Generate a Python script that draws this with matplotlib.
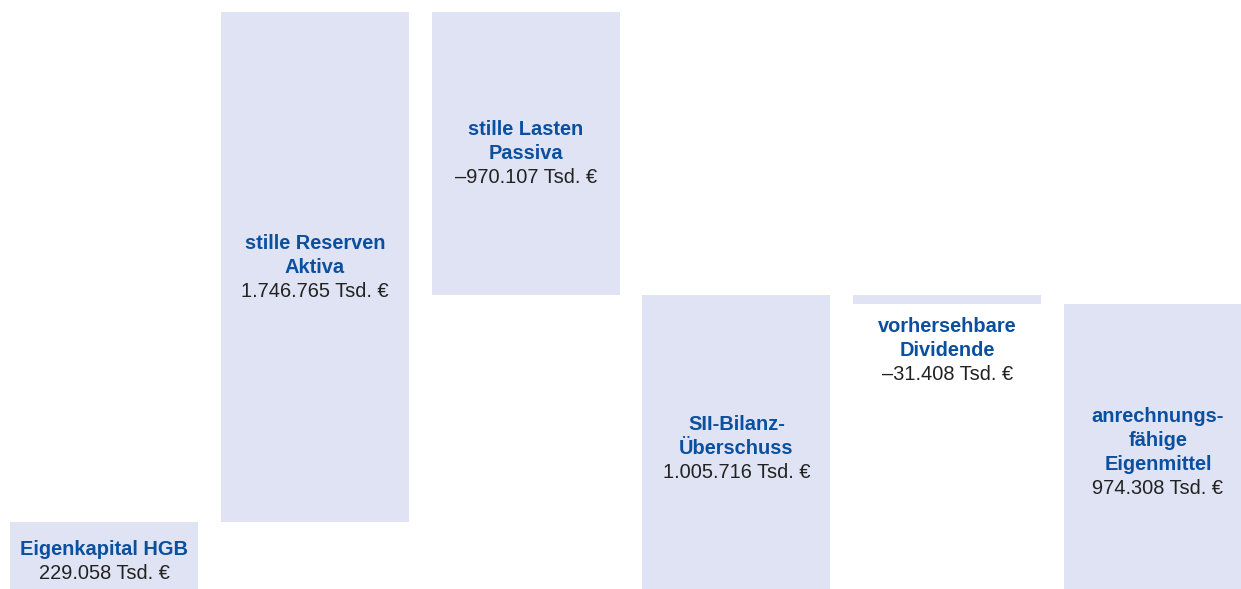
import matplotlib
matplotlib.use("Agg")
import matplotlib.pyplot as plt

# Data (Tsd. €)
titles = ["Eigenkapital HGB", "stille Reserven\nAktiva", "stille Lasten\nPassiva",
          "SII-Bilanz-\nÜberschuss", "vorhersehbare\nDividende",
          "anrechnungs-\nfähige\nEigenmittel"]
values = [229058, 1746765, -970107, 1005716, -31408, 974308]
is_total = [True, False, False, True, False, True]
value_labels = ["229.058 Tsd. €", "1.746.765 Tsd. €", "–970.107 Tsd. €",
                "1.005.716 Tsd. €", "–31.408 Tsd. €", "974.308 Tsd. €"]

bar_color = "#e0e3f3"
title_color = "#0b4f9f"
value_color = "#222222"

# waterfall extents
bottoms, heights = [], []
running = 0
for v, tot in zip(values, is_total):
    if tot:
        bottoms.append(0)
        heights.append(v)
        running = v
    else:
        if v >= 0:
            bottoms.append(running)
            heights.append(v)
        else:
            bottoms.append(running + v)
            heights.append(-v)
        running += v

W, H = 1241, 589
fig = plt.figure(figsize=(W / 100, H / 100), dpi=100)
ax = fig.add_axes([0, 0, 1, 1])
ax.set_axis_off()

x = list(range(len(values)))
ax.bar(x, heights, bottom=bottoms, width=188 / 210.8, color=bar_color, linewidth=0)

top_val = max(b + h for b, h in zip(bottoms, heights))
upp = top_val / 577.0  # units per pixel
ax.set_ylim(0, top_val + 12 * upp)
ax.set_xlim(-104 / 210.8, (W - 104) / 210.8)

font = "Liberation Sans"
fs = 14.4
line_px = 24

for i, (t, vl) in enumerate(zip(titles, value_labels)):
    lines = t.split("\n")
    n = len(lines) + 1
    b, h = bottoms[i], heights[i]
    small = h / upp < 60 and i != 0
    if small:
        y_anchor = b
        offsets = [-22 - k * line_px for k in range(n)]
    else:
        y_anchor = b + h / 2
        shift = -6 if b == 0 else 0
        offsets = [((n - 1) / 2 - k) * line_px + shift for k in range(n)]
    for k, ln in enumerate(lines):
        ax.annotate(ln, (i, y_anchor), xytext=(0, offsets[k]), textcoords="offset pixels",
                    ha="center", va="center", fontsize=fs, fontweight="bold",
                    color=title_color, family=font)
    ax.annotate(vl, (i, y_anchor), xytext=(0, offsets[-1]), textcoords="offset pixels",
                ha="center", va="center", fontsize=fs, color=value_color, family=font)

fig.savefig("out.png", dpi=100)
